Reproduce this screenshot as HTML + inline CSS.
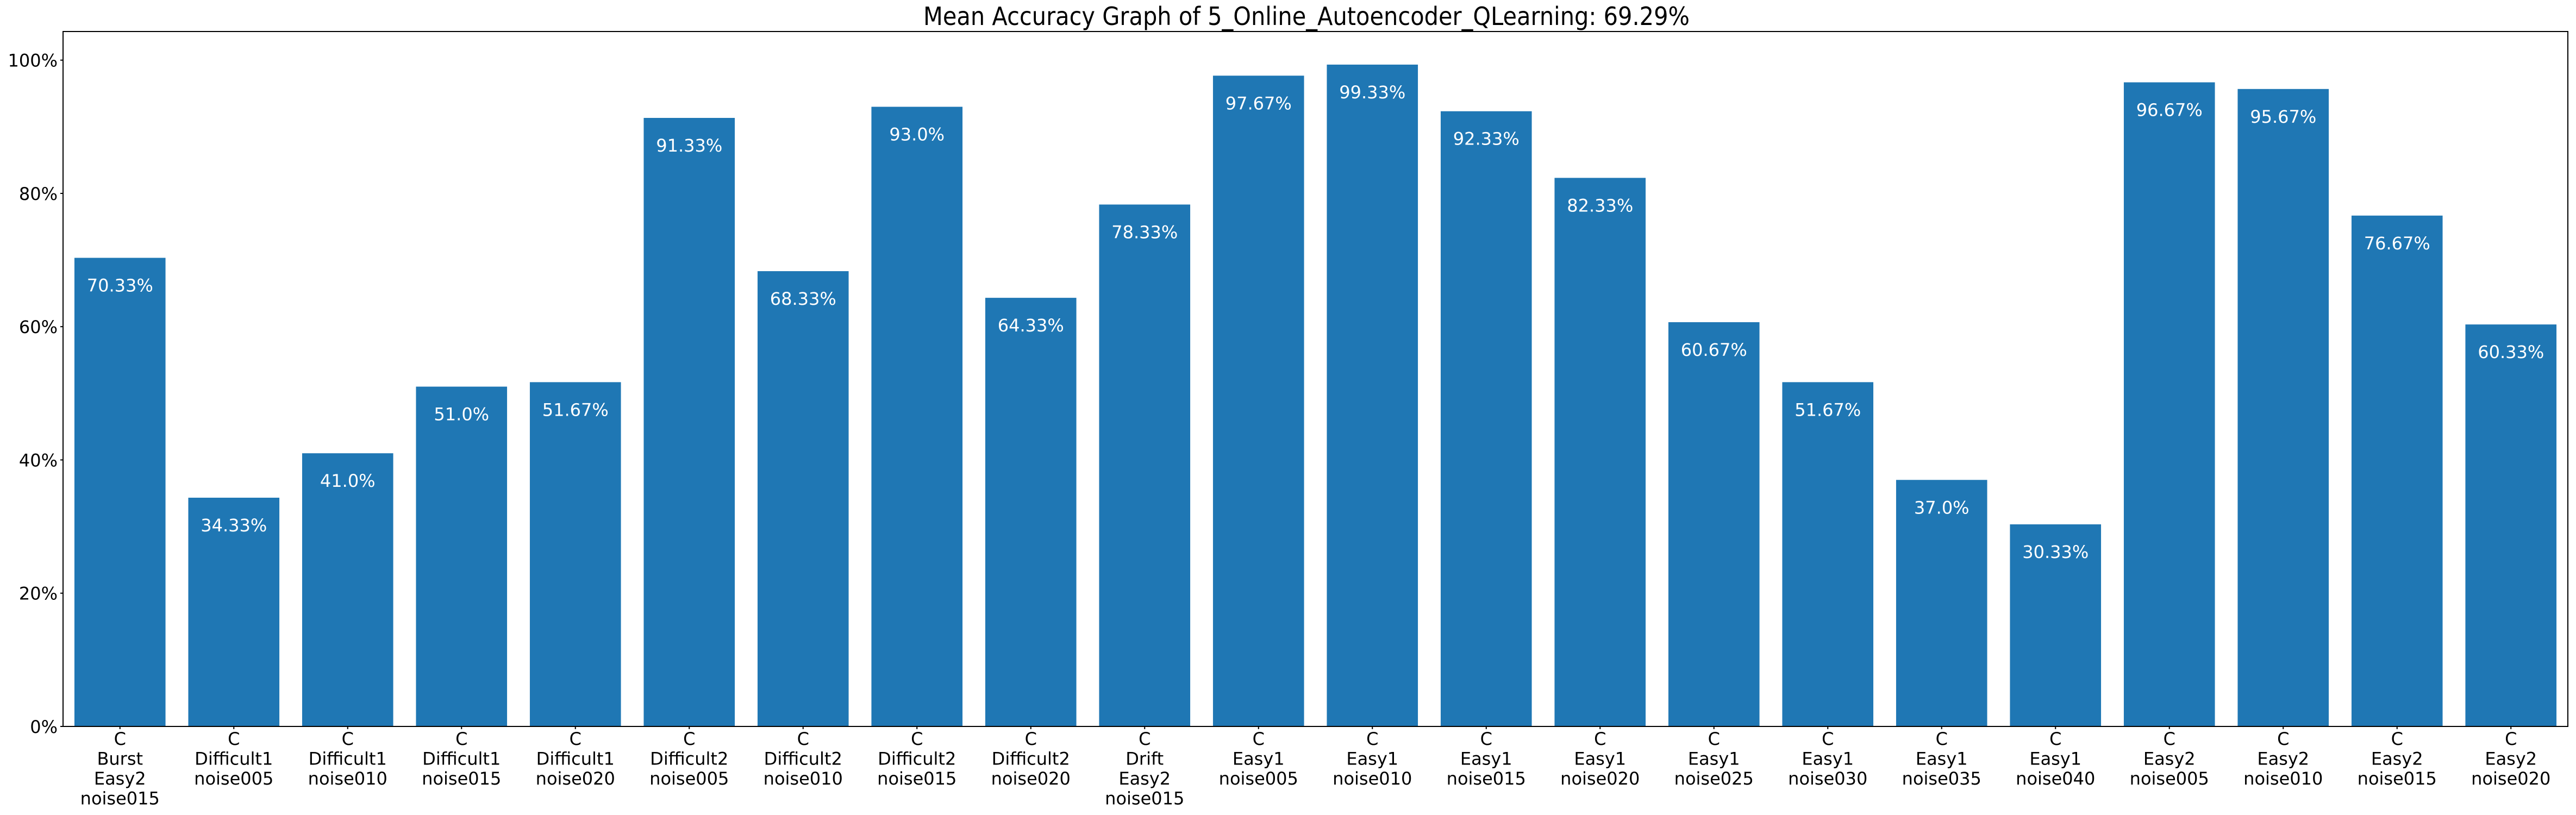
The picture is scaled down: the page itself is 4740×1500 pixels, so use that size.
<!DOCTYPE html>
<html><head><meta charset="utf-8"><style>
body{margin:0;background:#fff}
svg{display:block;font-family:"DejaVu Sans","Liberation Sans",sans-serif}
</style></head><body>
<svg id="chart" width="4740" height="1500" xmlns="http://www.w3.org/2000/svg">
<rect width="4740" height="1500" fill="#fff"/>
<text x="2404" y="46" text-anchor="middle" font-size="46" textLength="1410" lengthAdjust="spacingAndGlyphs">Mean Accuracy Graph of 5_Online_Autoencoder_QLearning: 69.29%</text>
<g id="bars"></g>
<g id="yaxis"></g>
<g id="xaxis"></g>
<rect x="116" y="58" width="4609" height="1279" fill="none" stroke="#000" stroke-width="2"/>
</svg>
<script>
const categories = [
 ["C","Burst","Easy2","noise015"],["C","Difficult1","noise005"],["C","Difficult1","noise010"],["C","Difficult1","noise015"],["C","Difficult1","noise020"],
 ["C","Difficult2","noise005"],["C","Difficult2","noise010"],["C","Difficult2","noise015"],["C","Difficult2","noise020"],["C","Drift","Easy2","noise015"],
 ["C","Easy1","noise005"],["C","Easy1","noise010"],["C","Easy1","noise015"],["C","Easy1","noise020"],["C","Easy1","noise025"],["C","Easy1","noise030"],
 ["C","Easy1","noise035"],["C","Easy1","noise040"],["C","Easy2","noise005"],["C","Easy2","noise010"],["C","Easy2","noise015"],["C","Easy2","noise020"]];
const values = [70.33,34.33,41.0,51.0,51.67,91.33,68.33,93.0,64.33,78.33,97.67,99.33,92.33,82.33,60.67,51.67,37.0,30.33,96.67,95.67,76.67,60.33];
const valueLabels = ["70.33%","34.33%","41.0%","51.0%","51.67%","91.33%","68.33%","93.0%","64.33%","78.33%","97.67%","99.33%","92.33%","82.33%","60.67%","51.67%","37.0%","30.33%","96.67%","95.67%","76.67%","60.33%"];
const yTicks = [0,20,40,60,80,100];
const yTickLabels = ["0%","20%","40%","60%","80%","100%"];

const NS="http://www.w3.org/2000/svg";
const L=116,R=4725,T=58,B=1337;
const yMax=Math.max(...values)*1.05;
const n=values.length;
const step=(R-L)/n;
const x=i=>L+step*(i+0.5);
const y=v=>B-(B-T)*v/yMax;
function mk(tag,attrs,parent){const e=document.createElementNS(NS,tag);for(const k in attrs)e.setAttribute(k,attrs[k]);parent.appendChild(e);return e;}
const gb=document.getElementById('bars'),gy=document.getElementById('yaxis'),gx=document.getElementById('xaxis');
const bw=step*0.8;
values.forEach((v,i)=>{
  const r=mk('rect',{x:x(i)-bw/2,y:y(v),width:bw,height:B-y(v),fill:'#1f77b4'},gb);
  
  
  const t=mk('text',{x:x(i),y:y(v)+62,'text-anchor':'middle','font-size':32,fill:'#fff'},gb);
  t.textContent=valueLabels[i];
  
  
  const tk=mk('line',{x1:x(i),x2:x(i),y1:B,y2:B+5,stroke:'#000','stroke-width':2},gx);
  
  
  categories[i].forEach((s,j)=>{
    const lt=mk('text',{x:x(i),y:B+34+j*36.5,'text-anchor':'middle','font-size':32},gx);
    lt.textContent=s;
    
    
  });
});
yTicks.forEach((v,i)=>{
  const tk=mk('line',{x1:L-5,x2:L,y1:y(v),y2:y(v),stroke:'#000','stroke-width':2},gy);
  
  
  const t=mk('text',{x:L-10,y:y(v)+12,'text-anchor':'end','font-size':32},gy);
  t.textContent=yTickLabels[i];
  
  
});
</script>
</body></html>
